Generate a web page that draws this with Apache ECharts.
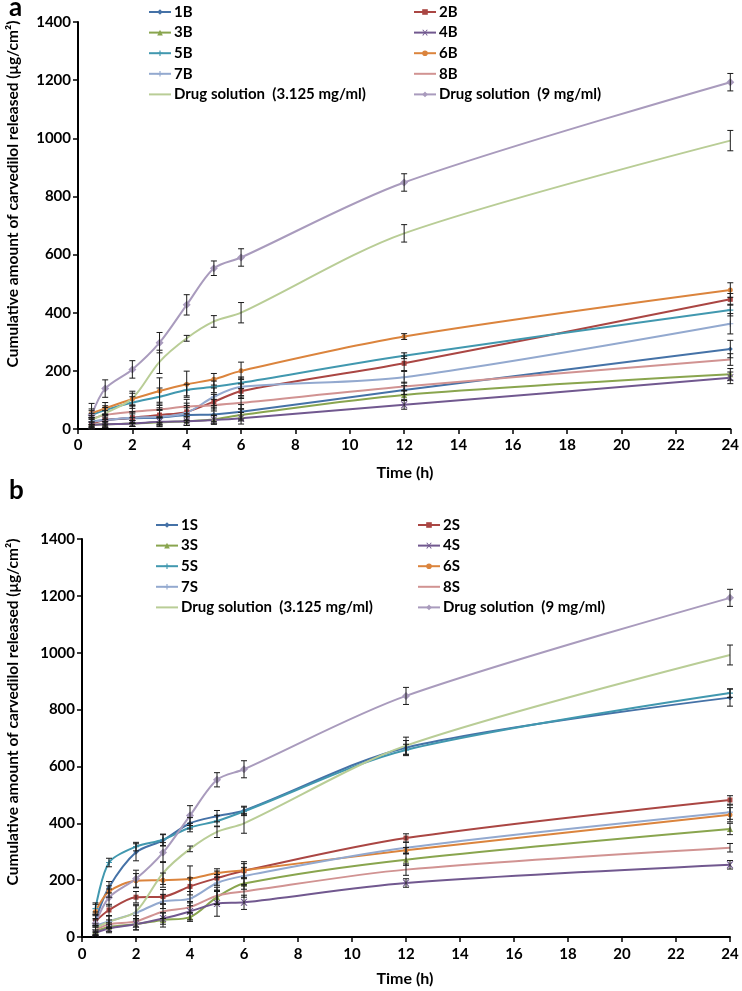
<!DOCTYPE html>
<html><head><meta charset="utf-8">
<script src="https://cdn.jsdelivr.net/npm/echarts@6/dist/echarts.min.js"></script>
<style>html,body{margin:0;padding:0;background:#fff}#c{width:742px;height:991px}</style>
</head><body><div id="c"></div>
<script>
const times = [0.5, 1, 2, 3, 4, 5, 6, 12, 24];
const xTicks = [0, 2, 4, 6, 8, 10, 12, 14, 16, 18, 20, 22, 24];
const yTicks = [0, 200, 400, 600, 800, 1000, 1200, 1400];

const sol3Name = 'Drug solution  (3.125 mg/ml)';
const sol9Name = 'Drug solution  (9 mg/ml)';

// Panel a values
const a1B = [25, 31, 37, 39, 48, 50, 59, 134, 275];
const a2B = [19, 31, 39, 48, 59, 94, 130, 226, 446];
const a3B = [14, 16, 19, 23, 27, 33, 48, 117, 188];
const a4B = [14, 16, 19, 25, 27, 31, 37, 83, 176];
const a5B = [48, 65, 91, 111, 134, 145, 159, 252, 409];
const a6B = [54, 71, 103, 131, 154, 171, 200, 318, 478];
const a7B = [25, 31, 39, 42, 56, 111, 145, 178, 362];
const a8B = [34, 48, 59, 67, 77, 82, 90, 146, 239];
const aSol3 = [31, 54, 105, 231, 312, 370, 400, 673, 992];
const aSol9 = [48, 139, 205, 297, 427, 553, 590, 848, 1193];
// Panel a error bars
const e1B = [10, 10, 15, 25, 25, 25, 25, 15, 30];
const e2B = [20, 20, 20, 25, 30, 25, 25, 25, 20];
const e3B = [10, 10, 10, 15, 15, 15, 20, 15, 20];
const e4B = [10, 10, 10, 15, 15, 15, 20, 15, 20];
const e5B = [15, 15, 20, 30, 20, 20, 20, 10, 20];
const e6B = [15, 20, 20, 45, 45, 20, 30, 10, 25];
const e7B = [15, 15, 20, 25, 25, 30, 30, 20, 35];
const e8B = [20, 15, 20, 25, 25, 20, 20, 15, 20];
const eSol3 = [15, 20, 25, 40, 10, 20, 35, 30, 35];
const eSol9 = [40, 30, 30, 35, 35, 25, 30, 30, 30];

// Panel b values
const b1S = [60, 175, 298, 340, 400, 425, 445, 666, 842];
const b2S = [55, 95, 140, 142, 178, 207, 233, 348, 482];
const b3S = [20, 35, 45, 60, 70, 140, 188, 272, 380];
const b4S = [15, 30, 45, 65, 90, 118, 122, 190, 254];
const b5S = [100, 262, 318, 342, 385, 408, 442, 658, 858];
const b6S = [90, 160, 198, 200, 205, 225, 235, 305, 430];
const b7S = [40, 55, 85, 125, 135, 190, 215, 314, 439];
const b8S = [25, 45, 55, 90, 105, 145, 160, 237, 314];
const bSol3 = [31, 54, 90, 225, 310, 370, 400, 673, 992];
const bSol9 = [48, 139, 205, 297, 427, 553, 590, 848, 1193];
// Panel b error bars
const f1S = [20, 20, 30, 20, 20, 20, 15, 25, 30];
const f2S = [20, 20, 20, 25, 30, 25, 25, 15, 15];
const f3S = [15, 15, 20, 25, 15, 25, 20, 20, 20];
const f4S = [10, 15, 20, 20, 30, 45, 25, 15, 15];
const f5S = [20, 15, 15, 20, 15, 20, 15, 20, 15];
const f6S = [25, 20, 25, 25, 45, 15, 30, 10, 25];
const f7S = [20, 20, 25, 25, 25, 30, 30, 20, 25];
const f8S = [15, 15, 20, 25, 20, 30, 20, 20, 15];
const fSol3 = [15, 20, 25, 40, 10, 20, 35, 30, 35];
const fSol9 = [40, 30, 30, 35, 35, 25, 30, 30, 30];

const colors = ['#4572A7', '#AA4643', '#89A54E', '#71588F', '#4198AF', '#DB843D', '#93A9CF', '#D19392', '#B9CD96', '#A99BBD'];
const symX = 'path://M0 0L4 0L10 6L16 0L20 0L12 8L20 16L16 16L10 10L4 16L0 16L8 8Z';
const symPlus = 'path://M8 0H12V8H20V12H12V20H8V12H0V8H8Z';
const symbols = ['diamond', 'rect', 'triangle', symX, symPlus, 'circle', symPlus, 'none', 'none', 'diamond'];
const symSizes = [5, 5, 6, 7, 6, 5, 6, 0, 0, 8];

const panelA = {
  names: ['1B', '2B', '3B', '4B', '5B', '6B', '7B', '8B', sol3Name, sol9Name],
  vals: [a1B, a2B, a3B, a4B, a5B, a6B, a7B, a8B, aSol3, aSol9],
  errs: [e1B, e2B, e3B, e4B, e5B, e6B, e7B, e8B, eSol3, eSol9]
};
const panelB = {
  names: ['1S', '2S', '3S', '4S', '5S', '6S', '7S', '8S', sol3Name, sol9Name],
  vals: [b1S, b2S, b3S, b4S, b5S, b6S, b7S, b8S, bSol3, bSol9],
  errs: [f1S, f2S, f3S, f4S, f5S, f6S, f7S, f8S, fSol3, fSol9]
};

const FONT = 'Lato';
const series = [];
function addPanel(p, idx) {
  p.names.forEach((n, i) => {
    series.push({
      name: n, type: 'line', xAxisIndex: idx, yAxisIndex: idx,
      smooth: 0.3,
      data: times.map((t, k) => [t, p.vals[i][k]]),
      symbol: symbols[i], symbolSize: symSizes[i], showSymbol: symbols[i] !== 'none',
      lineStyle: { color: colors[i], width: 2 },
      itemStyle: { color: colors[i] },
      z: 2
    });
  });
  p.names.forEach((n, i) => {
    series.push({
      type: 'custom', xAxisIndex: idx, yAxisIndex: idx, z: 5, silent: true,
      encode: { x: 0, y: 1 },
      data: times.map((t, k) => [t, p.vals[i][k], p.errs[i][k]]),
      renderItem: function (params, api) {
        const x = api.value(0), y = api.value(1), e = api.value(2);
        const top = api.coord([x, y + e]);
        const bot = api.coord([x, y - e]);
        const w = 3;
        const st = { stroke: '#1a1a1a', lineWidth: 1 };
        return {
          type: 'group', children: [
            { type: 'line', shape: { x1: top[0], y1: top[1], x2: bot[0], y2: bot[1] }, style: st },
            { type: 'line', shape: { x1: top[0] - w, y1: top[1], x2: top[0] + w, y2: top[1] }, style: st },
            { type: 'line', shape: { x1: bot[0] - w, y1: bot[1], x2: bot[0] + w, y2: bot[1] }, style: st }
          ]
        };
      }
    });
  });
}
addPanel(panelA, 0);
addPanel(panelB, 1);

function xAxis(gi, margin) {
  return {
    type: 'value', gridIndex: gi, min: xTicks[0], max: xTicks[xTicks.length - 1], interval: 2,
    axisLine: { lineStyle: { color: '#000', width: 2 } },
    axisTick: { show: true, length: 5, lineStyle: { color: '#000', width: 1.5 } },
    axisLabel: { color: '#000', fontFamily: FONT, fontWeight: 'bold', fontSize: 15, margin: margin },
    splitLine: { show: false }
  };
}
function yAxis(gi) {
  return {
    type: 'value', gridIndex: gi, min: yTicks[0], max: yTicks[yTicks.length - 1], interval: 200,
    axisLine: { show: true, lineStyle: { color: '#000', width: 2 } },
    axisTick: { show: true, length: 5, lineStyle: { color: '#000', width: 1.5 } },
    axisLabel: { color: '#000', fontFamily: FONT, fontWeight: 'bold', fontSize: 15, margin: 7, formatter: v => String(v) },
    splitLine: { show: false }
  };
}
function legendItems(names) {
  return names.map(n => {
    if (n === '8B' || n === '8S' || n === sol3Name) return { name: n, itemStyle: { opacity: 0 } };
    return { name: n };
  });
}
function legend(names, left, top) {
  return {
    orient: 'vertical', left: left, top: top, data: legendItems(names),
    itemWidth: 22, itemHeight: 7, itemGap: 4.6,
    textStyle: { color: '#000', fontFamily: FONT, fontWeight: 'bold', fontSize: 15, lineHeight: 16, padding: [0, 0, 0, -2] },
    selectedMode: false
  };
}
const ytitle = 'Cumulative amount of carvedilol released (\u03bcg/cm\u00b2)';
const option = {
  animation: false,
  backgroundColor: '#fff',
  grid: [
    { left: 78, right: 9, top: 22, height: 407 },
    { left: 82, right: 12, top: 539, height: 398 }
  ],
  xAxis: [xAxis(0, 9), xAxis(1, 10)],
  yAxis: [yAxis(0), yAxis(1)],
  legend: [
    legend(['1B', '3B', '5B', '7B', sol3Name], 143, -1),
    legend(['2B', '4B', '6B', '8B', sol9Name], 408, -1),
    legend(['1S', '3S', '5S', '7S', sol3Name], 150, 512),
    legend(['2S', '4S', '6S', '8S', sol9Name], 412, 512)
  ],
  graphic: [
    { type: 'text', left: 9, top: -5, style: { text: 'a', font: 'bold 26px ' + FONT, fill: '#000' } },
    { type: 'text', left: 9, top: 478, style: { text: 'b', font: 'bold 26px ' + FONT, fill: '#000' } },
    { type: 'text', x: 13, y: 194, rotation: Math.PI / 2, style: { text: ytitle, font: 'bold 15.5px ' + FONT, fill: '#000', align: 'center', verticalAlign: 'middle' } },
    { type: 'text', x: 13, y: 712, rotation: Math.PI / 2, style: { text: ytitle, font: 'bold 15.5px ' + FONT, fill: '#000', align: 'center', verticalAlign: 'middle' } },
    { type: 'text', x: 405, y: 473, style: { text: 'Time (h)', font: 'bold 16px ' + FONT, fill: '#000', align: 'center', verticalAlign: 'middle' } },
    { type: 'text', x: 405, y: 979, style: { text: 'Time (h)', font: 'bold 16px ' + FONT, fill: '#000', align: 'center', verticalAlign: 'middle' } }
  ],
  series: series
};
const chart = echarts.init(document.getElementById('c'), null, { renderer: 'canvas' });
chart.setOption(option);
</script>
</body></html>
